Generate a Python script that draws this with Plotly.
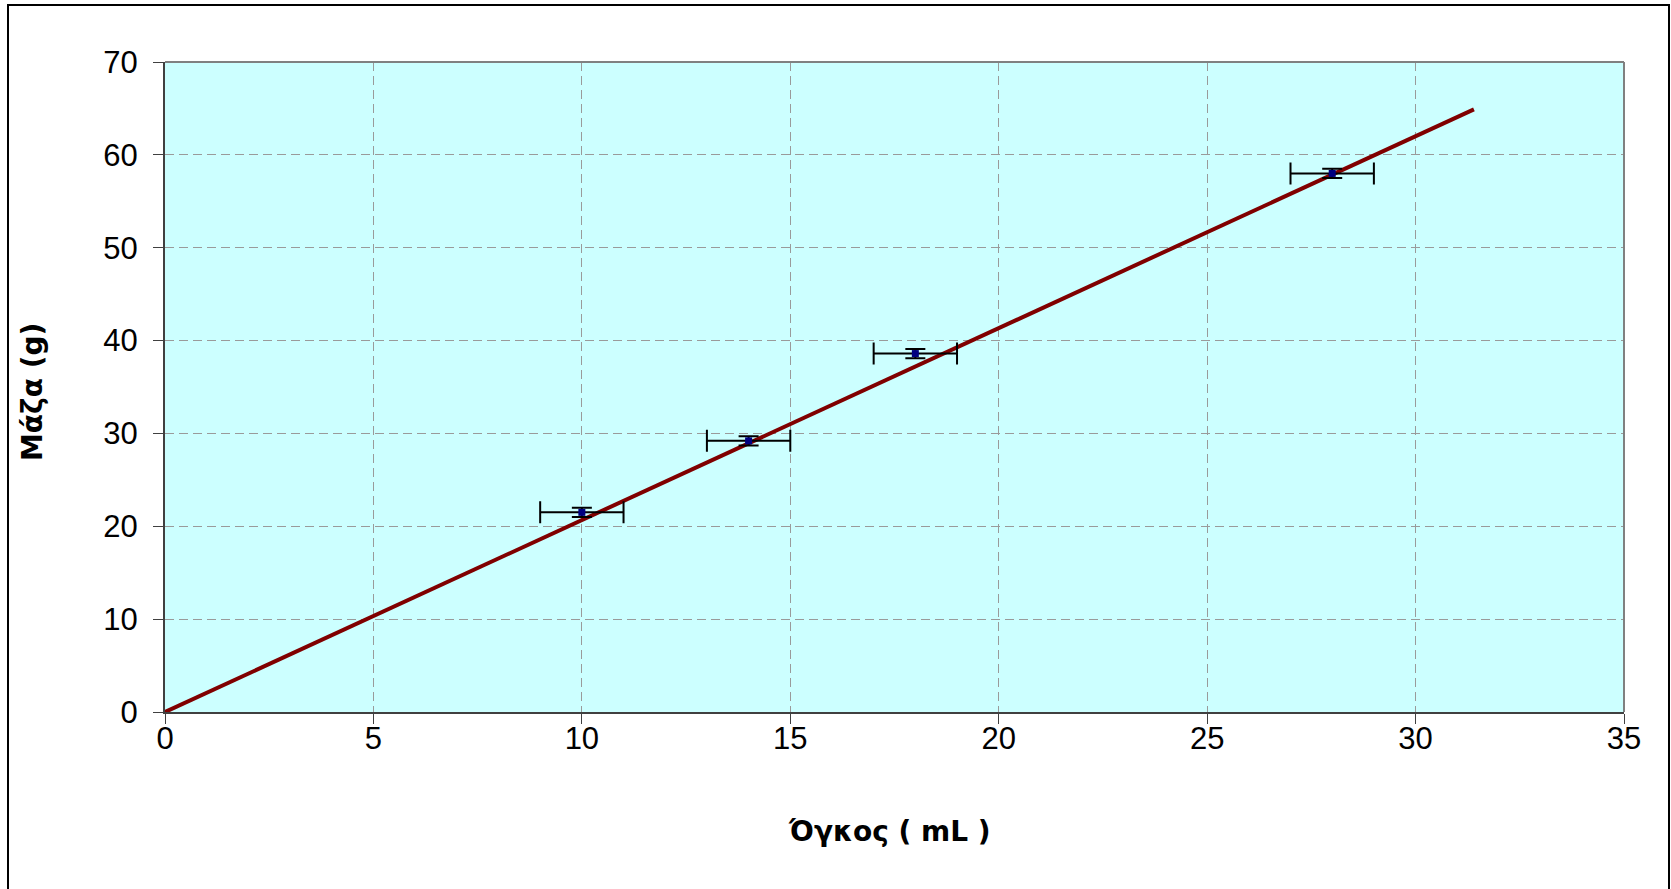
import plotly.graph_objects as go

# Data
volume_ml = [10, 14, 18, 28]
mass_g = [21.5, 29.2, 38.6, 58.0]
x_err = [1, 1, 1, 1]
y_err = [0.5, 0.5, 0.5, 0.5]
fit_x = [0, 31.4]
fit_y = [0, 64.9]

x_ticks = [0, 5, 10, 15, 20, 25, 30, 35]
y_ticks = [0, 10, 20, 30, 40, 50, 60, 70]

W, H = 1671, 889
L, R, T, B = 165, 47, 62, 177
pw, ph = W - L - R, H - T - B

fig = go.Figure()
fig.add_trace(go.Scatter(
    x=fit_x, y=fit_y, mode="lines",
    line=dict(color="#800000", width=4),
    showlegend=False, hoverinfo="skip",
))
fig.add_trace(go.Scatter(
    x=volume_ml, y=mass_g, mode="markers",
    marker=dict(symbol="square", size=7, color="#000080"),
    error_x=dict(type="data", array=x_err, color="black", thickness=2, width=11),
    error_y=dict(type="data", array=y_err, color="black", thickness=2, width=10),
    showlegend=False,
))

def px_x(p):
    return (p - L) / pw

def px_y(p):
    return (H - B - p) / ph

fig.add_shape(type="rect", xref="paper", yref="paper",
              x0=px_x(8), x1=px_x(1669), y0=px_y(892), y1=px_y(5),
              line=dict(color="black", width=2), layer="below")

axis_common = dict(
    showgrid=True, gridcolor="#9a9a9a", griddash="9px,5px", gridwidth=1,
    zeroline=False, showline=True, linecolor="#404040", linewidth=2,
    ticks="outside", ticklen=10, tickcolor="#404040", tickwidth=1,
    tickfont=dict(family="Liberation Sans, Arial", size=31, color="black"),
    mirror=False,
)

fig.update_xaxes(range=[0, 35], tickvals=x_ticks, ticklabelstandoff=-12, **axis_common)
fig.update_yaxes(range=[0, 70], tickvals=y_ticks, ticklabelstandoff=9, **axis_common)

title_font = dict(family="DejaVu Sans", size=28, color="black")
fig.add_annotation(text="<b>Όγκος ( mL )</b>", xref="paper", yref="paper",
                   x=px_x(889), y=px_y(831), showarrow=False, font=title_font,
                   xanchor="center", yanchor="middle")
fig.add_annotation(text="<b>Μάζα (g)</b>", xref="paper", yref="paper",
                   x=px_x(32), y=px_y(392), showarrow=False, font=title_font,
                   textangle=-90, xanchor="center", yanchor="middle")

# top/right plot border
fig.add_shape(type="line", xref="paper", yref="paper", x0=0, x1=1, y0=1, y1=1,
              line=dict(color="#808080", width=2))
fig.add_shape(type="line", xref="paper", yref="paper", x0=1, x1=1, y0=0, y1=1,
              line=dict(color="#808080", width=2))

fig.update_layout(
    width=W, height=H,
    margin=dict(l=L, r=R, t=T, b=B),
    plot_bgcolor="#CCFFFF", paper_bgcolor="white",
    font=dict(family="Liberation Sans, Arial", color="black"),
)

fig.write_html("out.html", config={"displayModeBar": False},
               post_script="document.body.style.margin='0';document.body.style.overflow='hidden';")
